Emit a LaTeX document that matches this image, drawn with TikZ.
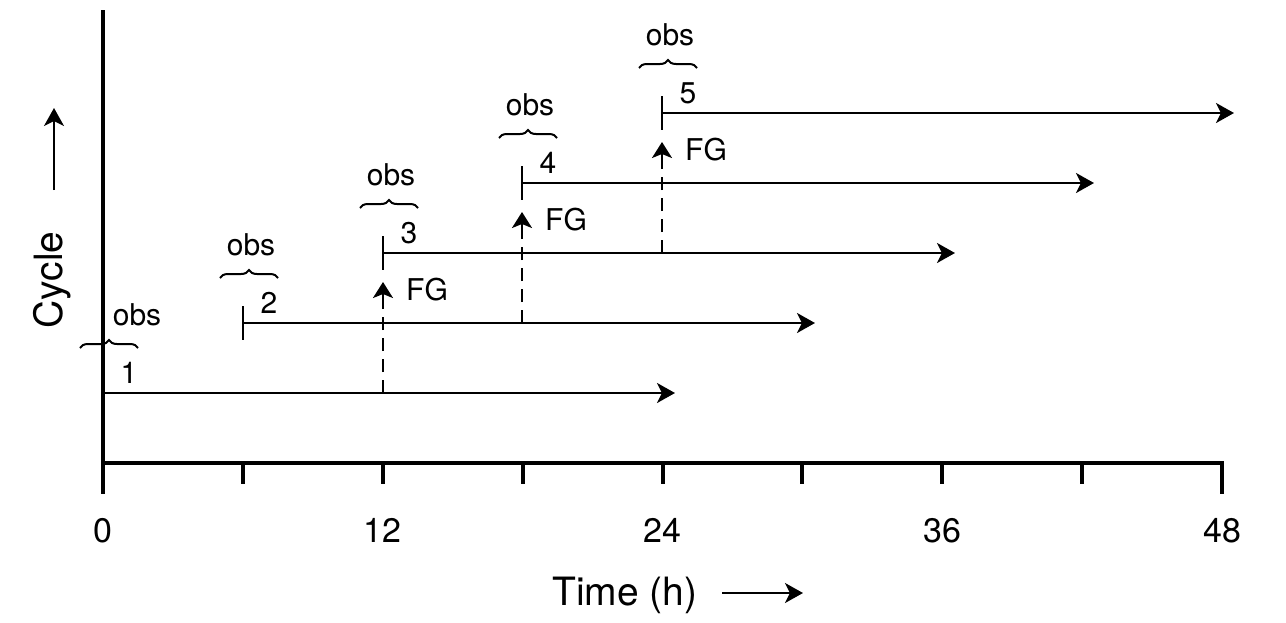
\documentclass[tikz,border=0pt]{standalone}
\usepackage{fontspec}
\setmainfont{TeX Gyre Heros}
\usetikzlibrary{arrows.meta,decorations.pathreplacing,calc}
\tikzset{
  axisline/.style={line width=4pt, line cap=butt, line join=miter},
  cycleline/.style={line width=2.6pt, -{Stealth[length=18pt,width=20pt,inset=5pt]}},
  starttick/.style={line width=2.8pt},
  fgline/.style={line width=2.4pt, dash pattern=on 13pt off 8pt},
  fghead/.style={line width=2.4pt, -{Stealth[length=16pt,width=20pt,inset=4pt]}},
  obsbrace/.style={line width=2pt, decorate, decoration={brace, amplitude=8pt}},
  lbl/.style={inner sep=0pt, font=\fontsize{30}{36}\selectfont},
  numlbl/.style={inner sep=0pt, font=\fontsize{34}{40}\selectfont, anchor=base},
  titlelbl/.style={inner sep=0pt, font=\fontsize{39}{46}\selectfont, anchor=base},
  titlearrow/.style={line width=2pt, -{Stealth[length=18pt,width=20pt,inset=5pt]}}
}
\begin{document}
\begin{tikzpicture}[x=1pt,y=-1pt]
\useasboundingbox (0,0) rectangle (1286,622);
% axes
\coordinate (ytop) at (103,10);
\coordinate (ybot) at (103,494);
\coordinate (xo) at (103,463);
\coordinate (xe) at (1222,463);
\coordinate (xeb) at (1222,494);
\draw[axisline] (ytop) -- (ybot);
\draw[axisline] (xo) -- (xe) -- (xeb);
\foreach \i in {1,...,7} {
  \coordinate (tk\i) at (103+139.875*\i,463);
  \draw[axisline] (tk\i) -- ++(0,21);
}
\foreach \v/\x in {0/103,12/382.75,24/662.5,36/942.25,48/1222} {
  \node[numlbl] (num\v) at (\x,542) {\v};
}
% axis titles
\node[titlelbl] (tlabel) at (625,605) {Time (h)};
\coordinate (ta1) at (722,593);
\coordinate (ta2) at (803,593);
\draw[titlearrow] (ta1) -- (ta2);
\node[titlelbl, rotate=90] (clabel) at (62,280) {Cycle};
\coordinate (ca1) at (54,190);
\coordinate (ca2) at (54,108);
\draw[titlearrow] (ca1) -- (ca2);
% cycles
\foreach \k/\s/\ly in {1/103/393, 2/243/323, 3/383/253, 4/522/183, 5/662/113} {
  \coordinate (s\k) at (\s,\ly);
  \coordinate (e\k) at (\s+572,\ly);
  \draw[cycleline] (s\k) -- (e\k);
  \node[lbl, anchor=base] (n\k) at (\s+26,\ly-10) {\k};
  \draw[obsbrace] ($(s\k)+(-23,-45)$) -- ($(s\k)+(35,-45)$);
}
\foreach \k in {2,...,5} {
  \draw[starttick] ($(s\k)+(0,-17)$) -- ($(s\k)+(0,17)$);
}
\node[lbl, anchor=base] (o1) at (137,325) {obs};
\foreach \k in {2,...,5} {
  \node[lbl, anchor=base] (o\k) at ($(s\k)+(8,-68)$) {obs};
}
% FG arrows
\foreach \k/\x/\lf/\lt in {1/383/393/253, 2/522/323/183, 3/662/253/113} {
  \coordinate (f\k) at (\x,\lf);
  \coordinate (g\k) at (\x,\lt+29);
  \coordinate (h\k) at (\x,\lt+45);
  \draw[fgline] (f\k) -- (h\k);
  \draw[fghead] (h\k) -- (g\k);
  \node[lbl, anchor=base west] (fg\k) at (\x+23,\lt+47) {FG};
}
\end{tikzpicture}
\end{document}
